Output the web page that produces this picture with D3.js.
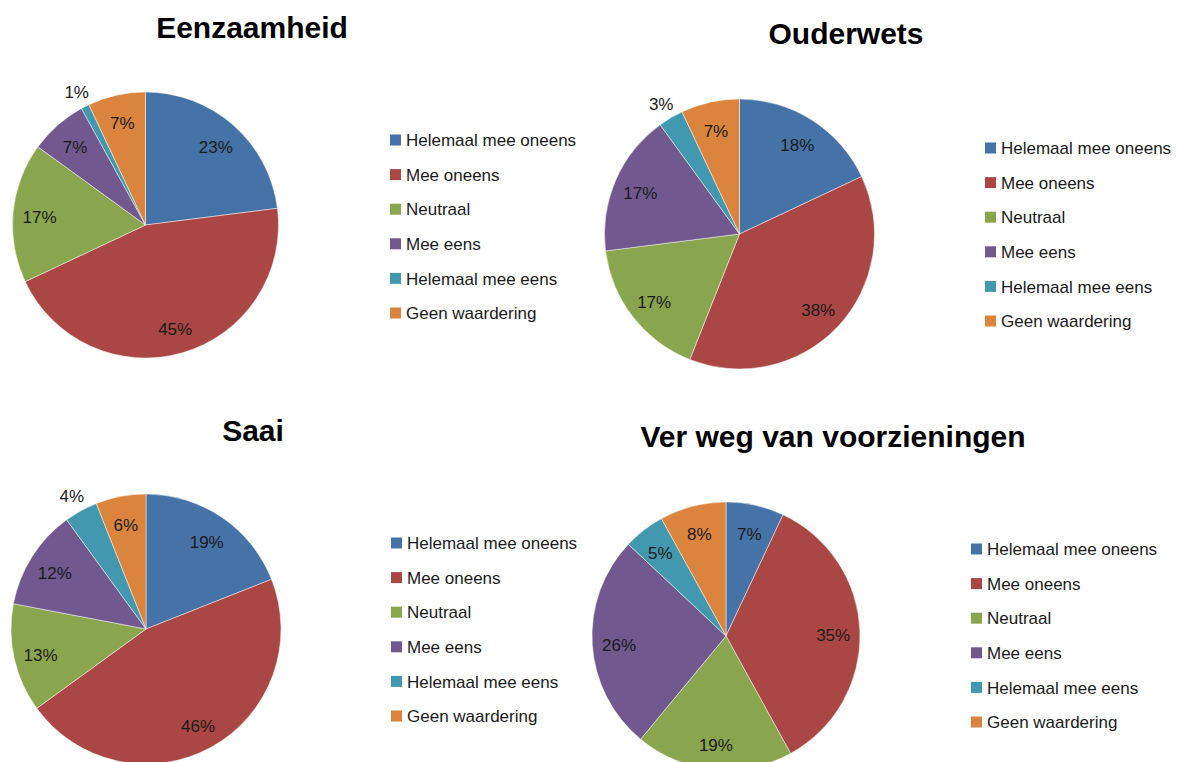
<!DOCTYPE html>
<html>
<head>
<meta charset="utf-8">
<script src="https://cdn.jsdelivr.net/npm/d3@7"></script>
<style>
  html, body { margin: 0; padding: 0; background: #fff; }
  svg { display: block; }
</style>
</head>
<body>
<svg id="chart" width="1180" height="762"></svg>
<script>
// ---- data ----
const categories = ["Helemaal mee oneens", "Mee oneens", "Neutraal", "Mee eens", "Helemaal mee eens", "Geen waardering"];
const titles = ["Eenzaamheid", "Ouderwets", "Saai", "Ver weg van voorzieningen"];
const eenzaamheid = [23, 45, 17, 7, 1, 7];
const ouderwets = [18, 38, 17, 17, 3, 7];
const saai = [19, 46, 13, 12, 4, 6];
const verWeg = [7, 35, 19, 26, 5, 8];

// ---- styles / layout ----
const colors = ["#4572A7", "#AA4643", "#89A54E", "#71588F", "#4198AF", "#DB843D"];
const panels = [
  { values: eenzaamheid, title: titles[0], cx: 145.5, cy: 225, r: 133, tx: 252, ty: 38, lx: 390, ly: 140 },
  { values: ouderwets,   title: titles[1], cx: 739.5, cy: 234, r: 135, tx: 846, ty: 44, lx: 985, ly: 148 },
  { values: saai,        title: titles[2], cx: 146,   cy: 629, r: 135, tx: 253, ty: 441, lx: 391, ly: 543 },
  { values: verWeg,      title: titles[3], cx: 726,   cy: 636, r: 134, tx: 833, ty: 447, lx: 971, ly: 549 }
];

const svg = d3.select("#chart");
const color = d3.scaleOrdinal().domain(categories).range(colors);
const pie = d3.pie().sort(null).value(d => d.v);

panels.forEach(p => {
  const data = p.values.map((v, i) => ({ cat: categories[i], v }));
  const arcs = pie(data);
  const arc = d3.arc().innerRadius(0).outerRadius(p.r);
  const g = svg.append("g").attr("transform", `translate(${p.cx},${p.cy})`);

  g.selectAll("path")
    .data(arcs)
    .join("path")
    .attr("d", arc)
    .attr("fill", d => color(d.data.cat))
    .attr("stroke", "rgba(255,255,255,0.6)")
    .attr("stroke-width", 0.8);

  const total = d3.sum(p.values);
  g.selectAll("text.lbl")
    .data(arcs)
    .join("text")
    .attr("class", "lbl")
    .attr("transform", d => {
      const a = (d.startAngle + d.endAngle) / 2;
      const rr = d.data.v < 5 ? p.r * 1.14 : p.r * 0.8;
      return `translate(${Math.sin(a) * rr},${-Math.cos(a) * rr})`;
    })
    .attr("text-anchor", "middle")
    .attr("dy", "0.48em")
    .attr("font-family", "'Liberation Sans', Arial, sans-serif")
    .attr("font-size", 17)
    .attr("fill", "#1a1a1a")
    .text(d => Math.round(d.data.v / total * 100) + "%");

  svg.append("text")
    .attr("x", p.tx)
    .attr("y", p.ty)
    .attr("text-anchor", "middle")
    .attr("font-family", "'Liberation Sans', Arial, sans-serif")
    .attr("font-weight", "bold")
    .attr("font-size", 30)
    .attr("fill", "#000")
    .text(p.title);

  const lg = svg.append("g").attr("transform", `translate(${p.lx},${p.ly})`);
  const items = lg.selectAll("g")
    .data(categories)
    .join("g")
    .attr("transform", (d, i) => `translate(0,${i * 34.6})`);
  items.append("rect")
    .attr("x", 0).attr("y", -5.5)
    .attr("width", 11).attr("height", 11)
    .attr("fill", d => color(d));
  items.append("text")
    .attr("x", 16)
    .attr("y", 0)
    .attr("dy", "0.36em")
    .attr("font-family", "'Liberation Sans', Arial, sans-serif")
    .attr("font-size", 17)
    .attr("fill", "#1a1a1a")
    .text(d => d);
});
</script>
</body>
</html>
